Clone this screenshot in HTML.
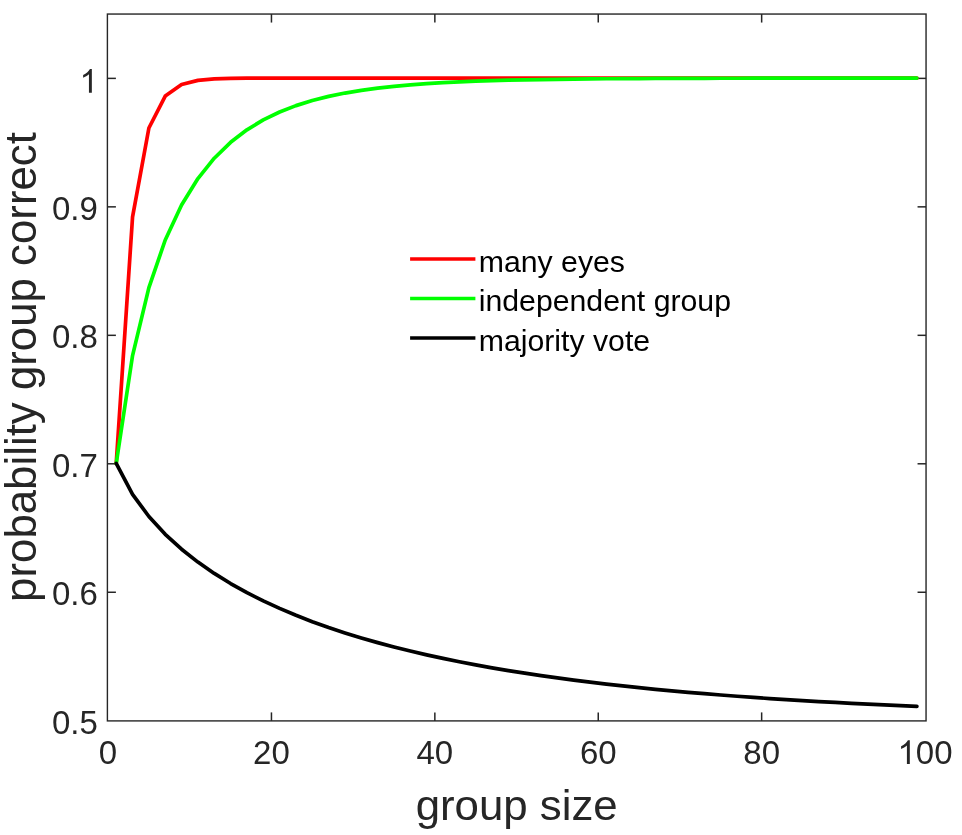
<!DOCTYPE html>
<html><head><meta charset="utf-8"><style>
html,body{margin:0;padding:0;background:#fff;}
svg{display:block;will-change:transform;}
text{font-family:"Liberation Sans",sans-serif;fill:#262626;}
</style></head><body>
<svg width="962" height="835" viewBox="0 0 962 835">
<rect x="107.4" y="14.05" width="818.65" height="706.85" fill="none" stroke="#262626" stroke-width="1.4"/>
<line x1="271.45" y1="720.9" x2="271.45" y2="712.4" stroke="#262626" stroke-width="1.5"/>
<line x1="271.45" y1="14.05" x2="271.45" y2="22.55" stroke="#262626" stroke-width="1.5"/>
<line x1="434.85" y1="720.9" x2="434.85" y2="712.4" stroke="#262626" stroke-width="1.5"/>
<line x1="434.85" y1="14.05" x2="434.85" y2="22.55" stroke="#262626" stroke-width="1.5"/>
<line x1="598.25" y1="720.9" x2="598.25" y2="712.4" stroke="#262626" stroke-width="1.5"/>
<line x1="598.25" y1="14.05" x2="598.25" y2="22.55" stroke="#262626" stroke-width="1.5"/>
<line x1="761.65" y1="720.9" x2="761.65" y2="712.4" stroke="#262626" stroke-width="1.5"/>
<line x1="761.65" y1="14.05" x2="761.65" y2="22.55" stroke="#262626" stroke-width="1.5"/>
<line x1="107.4" y1="592.26" x2="115.9" y2="592.26" stroke="#262626" stroke-width="1.5"/>
<line x1="926.05" y1="592.26" x2="917.55" y2="592.26" stroke="#262626" stroke-width="1.5"/>
<line x1="107.4" y1="463.79" x2="115.9" y2="463.79" stroke="#262626" stroke-width="1.5"/>
<line x1="926.05" y1="463.79" x2="917.55" y2="463.79" stroke="#262626" stroke-width="1.5"/>
<line x1="107.4" y1="335.32" x2="115.9" y2="335.32" stroke="#262626" stroke-width="1.5"/>
<line x1="926.05" y1="335.32" x2="917.55" y2="335.32" stroke="#262626" stroke-width="1.5"/>
<line x1="107.4" y1="206.85" x2="115.9" y2="206.85" stroke="#262626" stroke-width="1.5"/>
<line x1="926.05" y1="206.85" x2="917.55" y2="206.85" stroke="#262626" stroke-width="1.5"/>
<line x1="107.4" y1="78.38" x2="115.9" y2="78.38" stroke="#262626" stroke-width="1.5"/>
<line x1="926.05" y1="78.38" x2="917.55" y2="78.38" stroke="#262626" stroke-width="1.5"/>
<polyline points="116.22,463.49 132.56,216.83 148.90,128.03 165.24,96.06 181.58,84.55 197.92,80.41 214.26,78.92 230.60,78.38 246.94,78.19 263.28,78.12 279.62,78.09 295.96,78.09 312.30,78.08 328.64,78.08 344.98,78.08 361.32,78.08 377.66,78.08 394.00,78.08 410.34,78.08 426.68,78.08 443.02,78.08 459.36,78.08 475.70,78.08 492.04,78.08 508.38,78.08 524.72,78.08 541.06,78.08 557.40,78.08 573.74,78.08 590.08,78.08 606.42,78.08 622.76,78.08 639.10,78.08 655.44,78.08 671.78,78.08 688.12,78.08 704.46,78.08 720.80,78.08 737.14,78.08 753.48,78.08 769.82,78.08 786.16,78.08 802.50,78.08 818.84,78.08 835.18,78.08 851.52,78.08 867.86,78.08 884.20,78.08 900.54,78.08 916.88,78.08" fill="none" stroke="#ff0000" stroke-width="3.7" stroke-linejoin="round" stroke-linecap="round"/>
<polyline points="116.22,463.49 132.56,355.58 148.90,287.59 165.24,240.00 181.58,205.02 197.92,178.58 214.26,158.21 230.60,142.33 246.94,129.82 263.28,119.90 279.62,111.98 295.96,105.63 312.30,100.52 328.64,96.40 344.98,93.05 361.32,90.34 377.66,88.13 394.00,86.33 410.34,84.85 426.68,83.65 443.02,82.67 459.36,81.86 475.70,81.19 492.04,80.65 508.38,80.20 524.72,79.83 541.06,79.53 557.40,79.28 573.74,79.07 590.08,78.90 606.42,78.76 622.76,78.64 639.10,78.55 655.44,78.47 671.78,78.40 688.12,78.35 704.46,78.30 720.80,78.26 737.14,78.23 753.48,78.21 769.82,78.18 786.16,78.17 802.50,78.15 818.84,78.14 835.18,78.13 851.52,78.12 867.86,78.11 884.20,78.11 900.54,78.10 916.88,78.10" fill="none" stroke="#00ff00" stroke-width="3.7" stroke-linejoin="round" stroke-linecap="round"/>
<polyline points="116.22,463.49 132.56,494.32 148.90,516.52 165.24,534.28 181.58,549.20 197.92,562.09 214.26,573.43 230.60,583.54 246.94,592.64 263.28,600.89 279.62,608.42 295.96,615.31 312.30,621.66 328.64,627.51 344.98,632.93 361.32,637.96 377.66,642.64 394.00,647.00 410.34,651.07 426.68,654.87 443.02,658.43 459.36,661.77 475.70,664.90 492.04,667.84 508.38,670.60 524.72,673.20 541.06,675.65 557.40,677.95 573.74,680.13 590.08,682.18 606.42,684.11 622.76,685.94 639.10,687.67 655.44,689.30 671.78,690.85 688.12,692.31 704.46,693.70 720.80,695.01 737.14,696.25 753.48,697.43 769.82,698.54 786.16,699.60 802.50,700.61 818.84,701.56 835.18,702.46 851.52,703.32 867.86,704.13 884.20,704.91 900.54,705.64 916.88,706.34" fill="none" stroke="#000000" stroke-width="3.7" stroke-linejoin="round" stroke-linecap="round"/>
<text x="108.05" y="764" font-size="33" text-anchor="middle">0</text>
<text x="271.45" y="764" font-size="33" text-anchor="middle">20</text>
<text x="434.85" y="764" font-size="33" text-anchor="middle">40</text>
<text x="598.25" y="764" font-size="33" text-anchor="middle">60</text>
<text x="761.65" y="764" font-size="33" text-anchor="middle">80</text>
<path d="M763 0H583V1147Q518 1085 412 1023Q306 961 222 930V1104Q373 1175 486 1276Q599 1377 646 1472H763Z" transform="translate(897.52,764.00) scale(0.016113,-0.016113)" fill="#262626"/>
<text x="915.87" y="764" font-size="33">00</text>
<text x="97.9" y="733.73" font-size="33" text-anchor="end">0.5</text>
<text x="97.9" y="605.26" font-size="33" text-anchor="end">0.6</text>
<text x="97.9" y="476.79" font-size="33" text-anchor="end">0.7</text>
<text x="97.9" y="348.32" font-size="33" text-anchor="end">0.8</text>
<text x="97.9" y="219.85" font-size="33" text-anchor="end">0.9</text>
<path d="M763 0H583V1147Q518 1085 412 1023Q306 961 222 930V1104Q373 1175 486 1276Q599 1377 646 1472H763Z" transform="translate(79.55,92.80) scale(0.016113,-0.016113)" fill="#262626"/>
<text transform="translate(516.7,820) scale(1,0.96)" x="0" y="0" font-size="43.8" text-anchor="middle">group size</text>
<text transform="translate(35.5,367) rotate(-90)" x="0" y="0" font-size="43.8" text-anchor="middle">probability group correct</text>
<line x1="410.1" y1="259.10" x2="475.4" y2="259.10" stroke="#ff0000" stroke-width="3.5"/>
<text x="478.7" y="271.60" font-size="30.25" style="fill:#000">many eyes</text>
<line x1="410.1" y1="298.60" x2="475.4" y2="298.60" stroke="#00ff00" stroke-width="3.5"/>
<text x="478.7" y="311.10" font-size="30.25" style="fill:#000">independent group</text>
<line x1="410.1" y1="338.10" x2="475.4" y2="338.10" stroke="#000000" stroke-width="3.5"/>
<text x="478.7" y="350.60" font-size="30.25" style="fill:#000">majority vote</text>
</svg>
</body></html>
